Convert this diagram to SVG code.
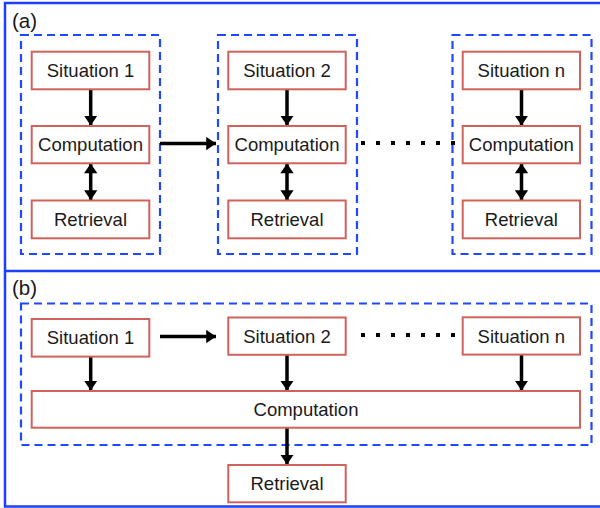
<svg xmlns="http://www.w3.org/2000/svg" width="600" height="508" viewBox="0 0 600 508">
<style>
.frame{fill:none;stroke:#1f3fff;stroke-width:2.5}
.group{fill:none;stroke:#1f48ff;stroke-width:2.2;stroke-dasharray:8 5}
.box{fill:#fff;stroke:#d0625c;stroke-width:2}
.lbl{font-family:"Liberation Sans",Arial,sans-serif;font-size:18.5px;fill:#1a1a1a;text-anchor:middle}
.tag{font-family:"Liberation Sans",Arial,sans-serif;font-size:20.5px;fill:#1a1a1a}
.arr{stroke:#000;stroke-width:3.5;fill:none}
.dots{stroke:#000;stroke-width:4;stroke-dasharray:4 11;fill:none}
</style>
<defs>
<marker id="ah" markerWidth="3" markerHeight="4" refX="2.8" refY="2" orient="auto" markerUnits="strokeWidth">
<path d="M0,0.1 L2.8,2 L0,3.9 Z" fill="#000"/>
</marker>
<marker id="as" markerWidth="3" markerHeight="4" refX="0" refY="2" orient="auto" markerUnits="strokeWidth">
<path d="M2.8,0.1 L0,2 L2.8,3.9 Z" fill="#000"/>
</marker>
</defs>
<rect width="600" height="508" fill="#fff"/>
<g id="frame">
<rect class="frame" x="5" y="3" width="600" height="503.5"/>
<line class="frame" x1="5" y1="271" x2="600" y2="271"/>
<text class="tag" x="12" y="27.5">(a)</text>
<text class="tag" x="12" y="294.5">(b)</text>
</g>
<g id="groups">
<rect class="group" x="21" y="35" width="139" height="219"/>
<rect class="group" x="218" y="35" width="139" height="219"/>
<rect class="group" x="452.5" y="35" width="139" height="219"/>
<rect class="group" x="21" y="303.5" width="570.5" height="141.5"/>
</g>
<g id="connectors">
<line class="arr" x1="90.7" y1="89.5" x2="90.7" y2="125.5" marker-end="url(#ah)"/>
<line class="arr" x1="90.7" y1="163.5" x2="90.7" y2="200" marker-start="url(#as)" marker-end="url(#ah)"/>
<line class="arr" x1="160" y1="143.5" x2="216" y2="143.5" marker-end="url(#ah)"/>
<line class="arr" x1="287" y1="89.5" x2="287" y2="125.5" marker-end="url(#ah)"/>
<line class="arr" x1="287" y1="163.5" x2="287" y2="200" marker-start="url(#as)" marker-end="url(#ah)"/>
<line class="dots" x1="361" y1="143" x2="456" y2="143"/>
<line class="arr" x1="521.5" y1="89.5" x2="521.5" y2="125.5" marker-end="url(#ah)"/>
<line class="arr" x1="521.5" y1="163.5" x2="521.5" y2="200" marker-start="url(#as)" marker-end="url(#ah)"/>
<line class="arr" x1="160" y1="336.5" x2="216" y2="336.5" marker-end="url(#ah)"/>
<line class="dots" x1="361" y1="335" x2="456" y2="335"/>
<line class="arr" x1="90.7" y1="357" x2="90.7" y2="390.5" marker-end="url(#ah)"/>
<line class="arr" x1="287" y1="355" x2="287" y2="390.5" marker-end="url(#ah)"/>
<line class="arr" x1="521.5" y1="355" x2="521.5" y2="390.5" marker-end="url(#ah)"/>
<line class="arr" x1="287" y1="428" x2="287" y2="464.5" marker-end="url(#ah)"/>
</g>
<g id="a-sit1"><rect class="box" x="31.7" y="51.7" width="117.6" height="37.6"/><text class="lbl" x="90.5" y="77">Situation 1</text></g>
<g id="a-comp1"><rect class="box" x="31.7" y="126" width="117.6" height="37.3"/><text class="lbl" x="90.5" y="151">Computation</text></g>
<g id="a-ret1"><rect class="box" x="31.7" y="200.5" width="117.6" height="37.8"/><text class="lbl" x="90.5" y="226">Retrieval</text></g>
<g id="a-sit2"><rect class="box" x="228.3" y="51.7" width="117.4" height="37.6"/><text class="lbl" x="287" y="77">Situation 2</text></g>
<g id="a-comp2"><rect class="box" x="228.3" y="126" width="117.4" height="37.3"/><text class="lbl" x="287" y="151">Computation</text></g>
<g id="a-ret2"><rect class="box" x="228.3" y="200.5" width="117.4" height="37.8"/><text class="lbl" x="287" y="226">Retrieval</text></g>
<g id="a-sitn"><rect class="box" x="462.7" y="51.7" width="117.3" height="37.6"/><text class="lbl" x="521.3" y="77">Situation n</text></g>
<g id="a-compn"><rect class="box" x="462.7" y="126" width="117.3" height="37.3"/><text class="lbl" x="521.3" y="151">Computation</text></g>
<g id="a-retn"><rect class="box" x="462.7" y="200.5" width="117.3" height="37.8"/><text class="lbl" x="521.3" y="226">Retrieval</text></g>
<g id="b-sit1"><rect class="box" x="31.7" y="319" width="117.6" height="37.6"/><text class="lbl" x="90.5" y="344">Situation 1</text></g>
<g id="b-sit2"><rect class="box" x="228.3" y="317.5" width="117.4" height="37.3"/><text class="lbl" x="287" y="342.5">Situation 2</text></g>
<g id="b-sitn"><rect class="box" x="462.7" y="317.3" width="117.3" height="37.3"/><text class="lbl" x="521.3" y="342.5">Situation n</text></g>
<g id="b-comp"><rect class="box" x="31.7" y="391" width="548.3" height="36.7"/><text class="lbl" x="306" y="415.5">Computation</text></g>
<g id="b-ret"><rect class="box" x="228.3" y="465" width="117.4" height="37.3"/><text class="lbl" x="287" y="490">Retrieval</text></g>
</svg>
